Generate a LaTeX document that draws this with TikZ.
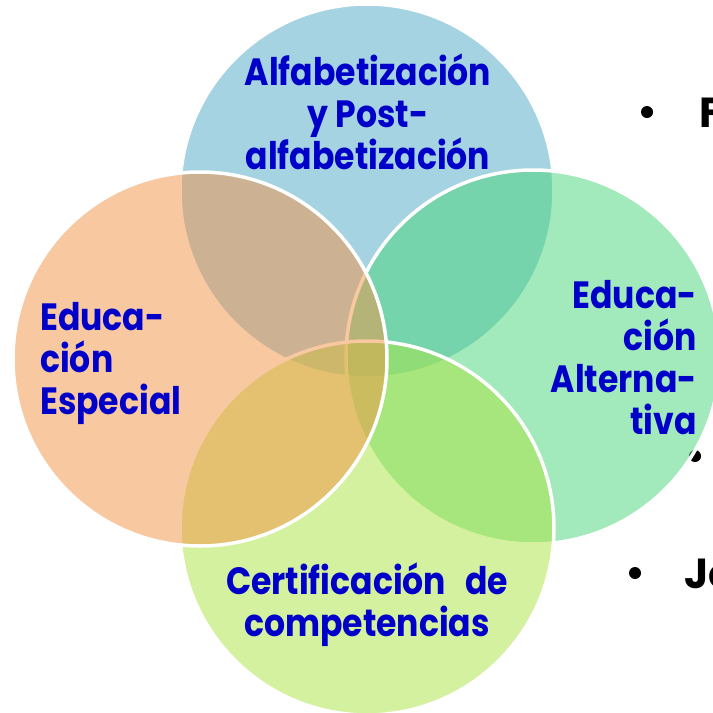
\documentclass[tikz,border=0pt]{standalone}
\usepackage{fontspec}
\newfontfamily\lblfont[FakeStretch=0.87]{Poppins}
\newfontfamily\bulfont{Poppins}
\definecolor{cblue}{RGB}{77,169,197}
\definecolor{corange}{RGB}{243,147,69}
\definecolor{cgreen}{RGB}{71,213,121}
\definecolor{clime}{RGB}{171,229,65}
\definecolor{ctext}{RGB}{0,0,200}
\tikzset{
  ring/.style={circle, inner sep=0pt, minimum size=374pt, draw=white, line width=3.5pt, fill opacity=0.5, draw opacity=1},
  lbl/.style={text=ctext, inner sep=0pt, font=\lblfont\bfseries\fontsize{38}{42}\selectfont},
  bdot/.style={circle, fill=black, inner sep=0pt, minimum size=12pt},
  btext/.style={text=black, inner sep=0pt, font=\bulfont\bfseries\fontsize{42}{46}\selectfont}
}
\begin{document}
\begin{tikzpicture}[x=1pt,y=-1pt]
\useasboundingbox (0,0) rectangle (713,713);
\fill[white] (0,0) rectangle (713,713);
\begin{scope}
\clip (0,0) rectangle (713,713);
\node[bdot] (d1) at (647,112) {};
\node[btext, anchor=west] (t1) at (699,113) {F};
\node[bdot] (d2) at (695,456) {};
\node[bdot] (d3) at (635,573) {};
\node[btext, anchor=west] (t3) at (684,574) {Jo};
\node[ring, fill=cblue] (alf) at (367,191) {};
\node[ring, fill=cgreen] (alt) at (533,357) {};
\node[ring, fill=clime] (cert) at (367,528) {};
\node[ring, fill=corange] (esp) at (200,359) {};
\end{scope}
\node[lbl, align=center] (lalf) at (368,112) {Alfabetización\\y Post-\\alfabetización};
\node[lbl, align=left, anchor=west] (lesp) at (40,363) {Educa-\\ción\\Especial};
\node[lbl, align=right, anchor=east] (lalt) at (697,358) {Educa-\\ción\\Alterna-\\tiva};
\node[lbl, align=center] (lcert) at (367,605) {Certificación\enspace de\\competencias};
\end{tikzpicture}
\end{document}
